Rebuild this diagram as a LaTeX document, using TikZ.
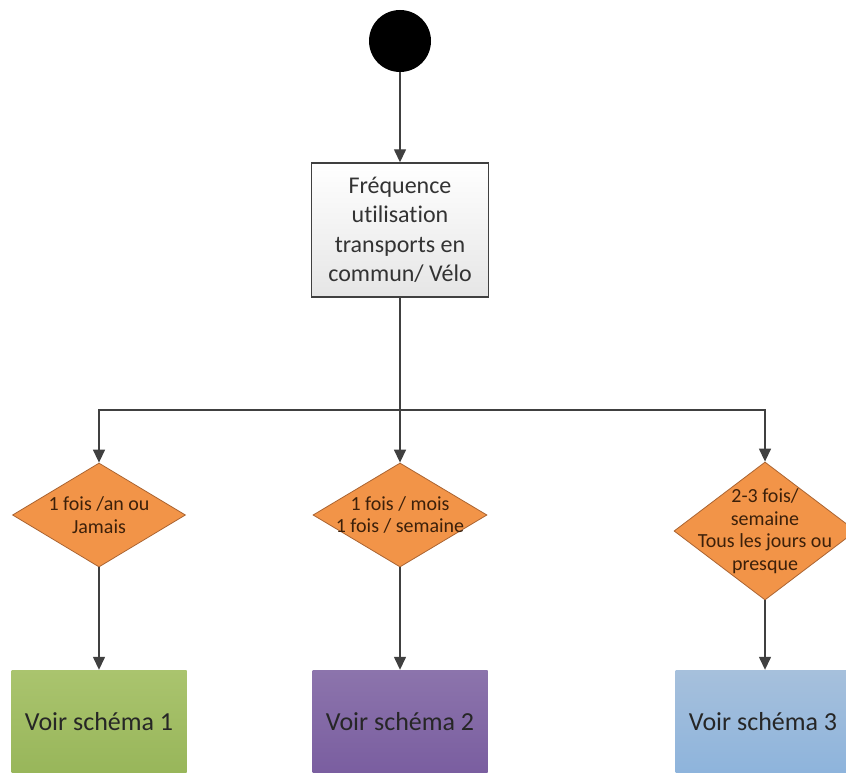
\documentclass[tikz,border=0pt]{standalone}
\usepackage{fontspec}
\setmainfont{Carlito}[Ligatures=NoCommon]
\usetikzlibrary{arrows.meta,shapes.geometric}

\definecolor{linegray}{RGB}{64,64,64}
\definecolor{choicefill}{RGB}{242,148,72}
\definecolor{choiceedge}{RGB}{170,100,50}
\definecolor{choiceink}{RGB}{60,32,10}
\definecolor{greentop}{RGB}{170,196,110}
\definecolor{greenbot}{RGB}{152,182,90}
\definecolor{purpletop}{RGB}{140,116,172}
\definecolor{purplebot}{RGB}{122,94,160}
\definecolor{bluetop}{RGB}{166,192,220}
\definecolor{bluebot}{RGB}{142,180,220}

\begin{document}
\begin{tikzpicture}[x=1pt, y=-1pt,
    arr/.style={draw=linegray, line width=1.4pt, -{Triangle[length=13pt,width=12pt]}},
    start/.style={circle, fill=black, minimum size=62pt, inner sep=0pt},
    freqbox/.style={rectangle, draw=linegray, line width=1.4pt, top color=white, bottom color=black!10,
        minimum width=177pt, minimum height=134pt, align=center, text=black!80,
        font=\fontsize{24}{29.5}\selectfont},
    choice/.style={diamond, draw=choiceedge, line width=0.8pt, fill=choicefill, inner sep=0pt},
    choicetext/.style={align=center, text=choiceink, inner sep=0pt, font=\fontsize{20}{22.5}\selectfont},
    voir/.style={rectangle, minimum width=175pt, minimum height=103pt, text=black!85,
        font=\fontsize{26}{30}\selectfont}]
    \useasboundingbox (0,0) rectangle (846,773);

    % Start and question
    \node[start] (start) at (400,41) {};
    \node[freqbox] (freq) at (400,230) {Fréquence\\utilisation\\transports en\\commun/ Vélo};
    \coordinate (split) at (400,410);

    % Answers
    \node[choice, minimum width=173pt, minimum height=104pt,
        label={[choicetext]center:{1 fois /an ou\\Jamais}}] (rare) at (99,515) {};
    \node[choice, minimum width=174pt, minimum height=104pt,
        label={[choicetext]center:{1 fois / mois\\1 fois / semaine}}] (often) at (400,515) {};
    \node[choice, minimum width=182pt, minimum height=138pt,
        label={[choicetext]center:{2-3 fois/\\semaine\\Tous les jours ou\\presque}}] (daily) at (765,531) {};

    % Schemes
    \node[voir, top color=greentop, bottom color=greenbot] (s1) at (99,721.5) {Voir schéma 1};
    \node[voir, top color=purpletop, bottom color=purplebot] (s2) at (400,721.5) {Voir schéma 2};
    \node[voir, top color=bluetop, bottom color=bluebot] (s3) at (763,721.5) {Voir schéma 3};

    % Connectors
    \draw[arr] (start) -- (freq);
    \draw[arr] (freq) -- (often);
    \draw[arr] (split) -| (rare);
    \draw[arr] (split) -| (daily);
    \draw[arr] (rare) -- (s1);
    \draw[arr] (often) -- (s2);
    \draw[arr] (daily) -- (daily |- s3.north);
\end{tikzpicture}
\end{document}
